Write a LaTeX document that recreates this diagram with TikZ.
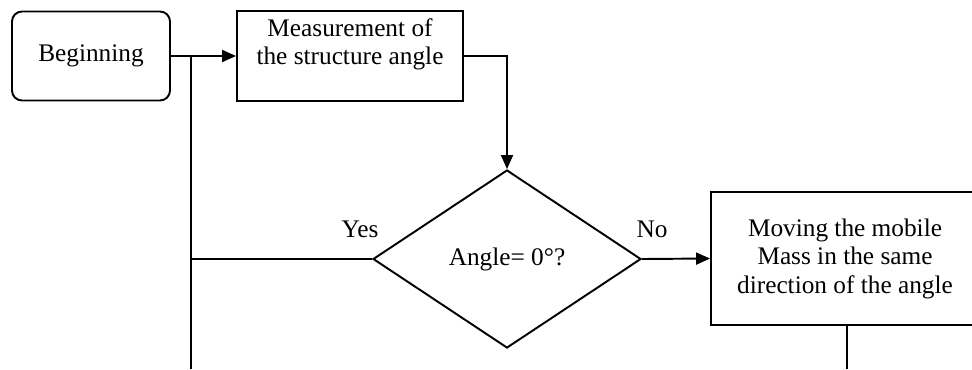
\documentclass[tikz,border=0pt]{standalone}
\usepackage{fontspec}
\setmainfont{Liberation Serif}
\usetikzlibrary{positioning, shapes.geometric, arrows.meta}

\begin{document}
\begin{tikzpicture}[font=\fontsize{14.4}{16.2}\selectfont, line width=1.1pt,
    startbox/.style={draw, rounded corners=0.2cm, minimum width=3.16cm, minimum height=1.78cm, align=center},
    procbox/.style={draw, minimum height=1.8cm, align=center, inner sep=2pt},
    decision/.style={draw, diamond, minimum width=5.36cm, minimum height=3.56cm, inner sep=0pt},
    answer/.style={inner sep=0pt},
    arr/.style={-{Triangle[length=0.28cm, width=0.24cm]}}]
  \useasboundingbox (0,0) rectangle (19.44,-7.38);
  \node[startbox] (begin) at (1.82,-1.12) {Beginning};
  \node[procbox, minimum width=4.52cm] (measure) at (7.0,-1.12) {Measurement of\\the structure angle\\\mbox{}};
  \node[decision] (test) at (10.14,-5.18) {Angle= 0°?};
  \node[procbox, minimum width=5.36cm, minimum height=2.66cm] (move) at (16.9,-5.17)
    {Moving the mobile\\Mass in the same\\direction of the angle};
  \node[answer, above=0.4cm of test.west, xshift=-0.24cm] (yes) {Yes};
  \node[answer, above=0.4cm of test.east, xshift=0.2cm] (no) {No};
  % return loop comes up from below the cut and joins the first line
  \coordinate (join) at (3.82,-1.12);
  \coordinate (back) at (3.82,-5.18);
  \coordinate (loop) at (3.82,-7.38);
  \coordinate (out) at (16.94,-7.38);
  \draw[arr] (begin) -- (measure);
  \draw[arr] (measure.east) -| (test.north);
  \draw[arr] (test.east) -- (move.west);
  \draw (test.west) -- (back);
  \draw (loop) -- (join);
  \draw (move.south -| out) -- (out);
\end{tikzpicture}
\end{document}
